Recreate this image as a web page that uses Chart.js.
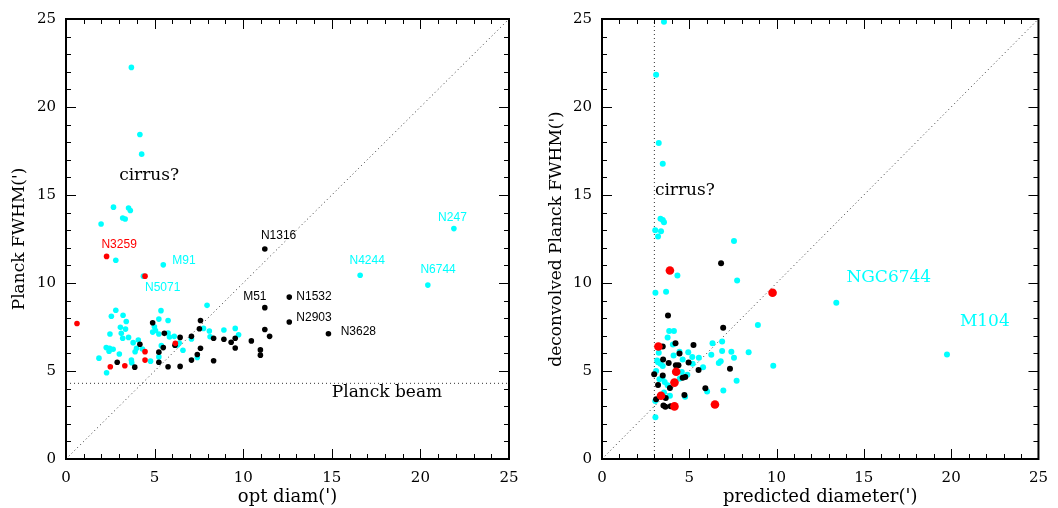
<!DOCTYPE html>
<html lang="en">
<head>
<meta charset="UTF-8">
<title>Planck FWHM vs diameter</title>
<script src="https://cdn.jsdelivr.net/npm/chart.js@4.4.1/dist/chart.umd.min.js"></script>
<style>
    html, body { margin: 0; padding: 0; background: #fff; }
    #wrap { position: relative; width: 1058px; height: 508px; overflow: hidden; }
    #left { position: absolute; left: 0; top: 0; }
    #right { position: absolute; left: 540px; top: 0; }
</style>
</head>
<body>
<div id="wrap">
    <canvas id="left" width="540" height="508"></canvas>
    <canvas id="right" width="518" height="508"></canvas>
</div>

<script>
    // ---- left panel: optical diameter vs Planck FWHM ----
    var leftBlackX = [11.22, 12.60, 11.22, 12.60, 14.81, 11.22, 11.49, 10.46, 10.97, 10.97, 9.55, 9.55, 9.32, 8.91, 8.33, 8.33, 7.59, 7.53, 7.59, 7.41, 7.08, 7.08, 6.44, 6.44, 6.15, 5.76, 5.55, 5.49, 5.24, 5.24, 4.89, 4.17, 3.88, 2.89];
    var leftBlackY = [11.93, 9.20, 8.60, 7.78, 7.12, 7.36, 6.97, 6.71, 6.20, 5.90, 6.86, 6.31, 6.63, 6.80, 6.86, 5.58, 7.87, 7.40, 6.29, 5.94, 5.62, 6.97, 6.91, 5.26, 6.46, 5.24, 7.14, 6.33, 6.07, 5.50, 7.74, 6.52, 5.22, 5.50];

    var leftCyanX = [3.69, 4.17, 4.27, 2.68, 3.53, 3.63, 3.20, 3.34, 1.98, 2.81, 5.49, 4.37, 21.89, 16.60, 20.42, 7.96, 2.81, 5.36, 3.22, 2.56, 5.24, 5.76, 3.40, 3.07, 7.76, 9.55, 8.91, 8.09, 4.99, 4.89, 5.05, 3.36, 2.48, 3.12, 5.24, 5.76, 9.74, 3.53, 3.20, 8.13, 7.08, 6.11, 5.84, 4.08, 3.79, 5.38, 6.39, 6.29, 2.27, 2.46, 2.66, 2.43, 3.98, 4.31, 3.90, 6.60, 3.01, 1.86, 5.24, 7.41, 3.69, 3.71, 4.77, 2.29];
    var leftCyanY = [22.25, 18.44, 17.32, 14.31, 14.26, 14.12, 13.69, 13.64, 13.35, 11.29, 11.03, 10.39, 13.09, 10.44, 9.88, 8.73, 8.45, 8.43, 8.17, 8.11, 7.95, 7.87, 7.81, 7.48, 7.42, 7.42, 7.33, 7.27, 7.51, 7.21, 7.30, 7.38, 7.10, 7.14, 7.10, 7.16, 7.06, 6.91, 6.86, 6.95, 6.82, 6.97, 6.93, 6.76, 6.61, 6.44, 6.59, 6.48, 6.33, 6.29, 6.24, 6.12, 6.29, 6.25, 6.09, 6.18, 5.97, 5.73, 5.80, 5.77, 5.62, 5.47, 5.56, 4.90];

    var leftRedX = [0.62, 2.29, 4.46, 6.17, 4.46, 4.46, 3.32, 2.50];
    var leftRedY = [7.70, 11.51, 10.39, 6.57, 6.10, 5.62, 5.30, 5.24];

    var planckBeam = 4.3;

    // ---- right panel: predicted diameter vs deconvolved FWHM ----
    var rightBlackX = [6.82, 3.78, 6.94, 5.24, 4.21, 3.48, 4.44, 3.50, 3.82, 4.96, 4.23, 4.38, 5.53, 7.33, 2.99, 3.21, 4.62, 4.77, 5.92, 3.89, 4.72, 3.65, 3.10, 3.52, 3.63, 3.93, 3.48];
    var rightBlackY = [11.12, 8.15, 7.46, 6.48, 6.57, 6.39, 5.99, 5.65, 5.45, 5.48, 5.33, 5.33, 5.05, 5.13, 4.81, 4.21, 4.62, 4.66, 4.02, 4.04, 3.64, 3.47, 3.40, 3.04, 2.97, 3.00, 4.75];

    var rightCyanX = [3.55, 3.10, 3.25, 3.48, 3.35, 3.48, 3.55, 3.05, 3.38, 3.21, 7.56, 4.32, 7.74, 3.06, 3.67, 13.42, 8.93, 3.85, 4.12, 3.76, 4.06, 6.33, 6.88, 6.88, 7.41, 8.40, 4.94, 4.44, 3.25, 6.26, 7.56, 5.55, 5.17, 4.10, 4.62, 6.80, 6.69, 5.19, 19.76, 9.81, 5.79, 3.16, 3.35, 3.48, 3.21, 3.10, 4.57, 4.89, 4.46, 3.46, 3.29, 3.59, 3.76, 7.71, 6.95, 6.02, 3.89, 4.76, 3.55, 3.05, 3.06];
    var rightCyanY = [24.85, 21.83, 17.96, 16.77, 13.65, 13.58, 13.45, 13.00, 12.94, 12.64, 12.38, 10.42, 10.14, 9.45, 9.50, 8.88, 7.61, 7.27, 7.27, 6.91, 6.50, 6.57, 6.67, 6.14, 6.09, 6.07, 6.07, 6.10, 6.03, 5.92, 5.75, 5.75, 5.79, 5.88, 5.65, 5.56, 5.45, 5.41, 5.94, 5.30, 5.22, 5.60, 5.41, 5.28, 5.50, 5.00, 4.94, 4.79, 4.58, 4.62, 4.53, 4.38, 4.19, 4.45, 3.89, 3.83, 3.59, 3.53, 3.78, 3.29, 2.37];

    var rightRedX = [3.89, 9.77, 3.23, 4.25, 4.15, 3.38, 4.15, 6.47];
    var rightRedY = [10.71, 9.45, 6.39, 4.96, 4.34, 3.59, 2.99, 3.10];

    var minDiam = 3.0;

    // text notes: [text, x, y, colour, kind]
    var leftNotes = [
        ['cirrus?', 3.0, 16.1, '#000000', 'serif'],
        ['N3259', 2.0, 12.2, '#ff0000', 'sans'],
        ['M91', 6.0, 11.27, '#00ffff', 'sans'],
        ['N5071', 4.46, 9.73, '#00ffff', 'sans'],
        ['N1316', 11.0, 12.7, '#000000', 'sans'],
        ['M51', 10.0, 9.22, '#000000', 'sans'],
        ['N1532', 13.0, 9.22, '#000000', 'sans'],
        ['N2903', 13.0, 8.04, '#000000', 'sans'],
        ['N3628', 15.5, 7.23, '#000000', 'sans'],
        ['N247', 21.0, 13.73, '#00ffff', 'sans'],
        ['N4244', 16.0, 11.25, '#00ffff', 'sans'],
        ['N6744', 20.0, 10.74, '#00ffff', 'sans'],
        ['Planck beam', 15.0, 3.78, '#000000', 'serif']
    ];
    var rightNotes = [
        ['cirrus?', 3.03, 15.25, '#000000', 'serif'],
        ['NGC6744', 14.0, 10.29, '#00ffff', 'serif'],
        ['M104', 20.5, 7.8, '#00ffff', 'serif']
    ];

    var SERIF = '"DejaVu Serif", "Liberation Serif", serif';
    var SANS = '"Liberation Sans", Arial, sans-serif';

    function pts(xs, ys) {
        var out = [];
        for (var i = 0; i < xs.length; i++) out.push({x: xs[i], y: ys[i]});
        return out;
    }

    // frame with inward ticks on all four sides (PGPLOT style box)
    var boxPlugin = {
        id: 'box',
        afterDraw: function(chart) {
            var c = chart.ctx, a = chart.chartArea;
            var sx = chart.scales.x, sy = chart.scales.y;
            c.save();
            c.strokeStyle = '#000';
            c.lineWidth = 1;
            for (var v = 0; v <= 25; v++) {
                var len = (v % 5 === 0) ? 10 : 5;
                var px = Math.round(sx.getPixelForValue(v)) + 0.5;
                var py = Math.round(sy.getPixelForValue(v)) + 0.5;
                c.beginPath();
                c.moveTo(px, a.bottom); c.lineTo(px, a.bottom - len);
                c.moveTo(px, a.top); c.lineTo(px, a.top + len);
                c.moveTo(a.left, py); c.lineTo(a.left + len, py);
                c.moveTo(a.right, py); c.lineTo(a.right - len, py);
                c.stroke();
            }
            c.lineWidth = 2;
            c.strokeRect(a.left, a.top, a.right - a.left, a.bottom - a.top);
            c.restore();
        }
    };

    function notesPlugin(list) {
        return {
            id: 'notes',
            afterDatasetsDraw: function(chart) {
                var c = chart.ctx;
                c.save();
                c.textBaseline = 'middle';
                c.textAlign = 'left';
                list.forEach(function(n) {
                    c.fillStyle = n[3];
                    c.font = n[4] === 'serif' ? '17px ' + SERIF : '12px ' + SANS;
                    c.fillText(n[0], chart.scales.x.getPixelForValue(n[1]), chart.scales.y.getPixelForValue(n[2]));
                });
                c.restore();
            }
        };
    }

    function refLine(points) {
        return {
            data: points,
            showLine: true,
            borderColor: '#333333',
            borderWidth: 1,
            borderDash: [1, 3],
            pointRadius: 0,
            fill: false
        };
    }

    function dots(xs, ys, colour, r) {
        return {
            data: pts(xs, ys),
            backgroundColor: colour,
            borderWidth: 0,
            pointRadius: r,
            pointHoverRadius: r
        };
    }

    function makeChart(id, cfg) {
        var axisTick = {stepSize: 5, color: '#000', font: {family: SERIF, size: 15}, maxRotation: 0};
        return new Chart(document.getElementById(id), {
            type: 'scatter',
            data: {datasets: cfg.datasets},
            options: {
                responsive: false,
                animation: false,
                events: [],
                layout: {padding: {top: 16, right: cfg.padRight, left: 0, bottom: 0}},
                plugins: {legend: {display: false}, tooltip: {enabled: false}},
                scales: {
                    x: {
                        type: 'linear', min: 0, max: 25,
                        ticks: Object.assign({padding: 10}, axisTick),
                        grid: {display: false, drawTicks: false},
                        border: {display: false},
                        title: {display: true, text: cfg.xTitle, color: '#000', font: {family: SERIF, size: 18}, padding: {top: 0, bottom: 0}},
                        afterFit: function(s) { s.height = 49; }
                    },
                    y: {
                        type: 'linear', min: 0, max: 25,
                        ticks: Object.assign({padding: 10}, axisTick),
                        grid: {display: false, drawTicks: false},
                        border: {display: false},
                        title: {display: true, text: cfg.yTitle, color: '#000', font: {family: SERIF, size: 17}, padding: {top: cfg.yTitlePad, bottom: 0}},
                        afterFit: function(s) { s.width = cfg.yWidth; }
                    }
                }
            },
            plugins: [boxPlugin, notesPlugin(cfg.notes)]
        });
    }

    // first dataset is drawn on top
    makeChart('left', {
        xTitle: "opt diam(')",
        yTitle: "Planck FWHM(')",
        yWidth: 66,
        padRight: 31,
        yTitlePad: 9,
        notes: leftNotes,
        datasets: [
            dots(leftRedX, leftRedY, '#ff0000', 2.8),
            dots(leftBlackX, leftBlackY, '#000000', 2.8),
            dots(leftCyanX, leftCyanY, '#00ffff', 2.8),
            refLine([{x: 0, y: 0}, {x: 25, y: 25}]),
            refLine([{x: 0, y: planckBeam}, {x: 25, y: planckBeam}])
        ]
    });

    makeChart('right', {
        xTitle: "predicted diameter(')",
        yTitle: "deconvolved Planck FWHM(')",
        yWidth: 62,
        padRight: 13,
        yTitlePad: 6,
        notes: rightNotes,
        datasets: [
            dots(rightRedX, rightRedY, '#ff0000', 4.3),
            dots(rightBlackX, rightBlackY, '#000000', 3),
            dots(rightCyanX, rightCyanY, '#00ffff', 3),
            refLine([{x: 0, y: 0}, {x: 25, y: 25}]),
            refLine([{x: minDiam, y: 0}, {x: minDiam, y: 25}])
        ]
    });
</script>
</body>
</html>
